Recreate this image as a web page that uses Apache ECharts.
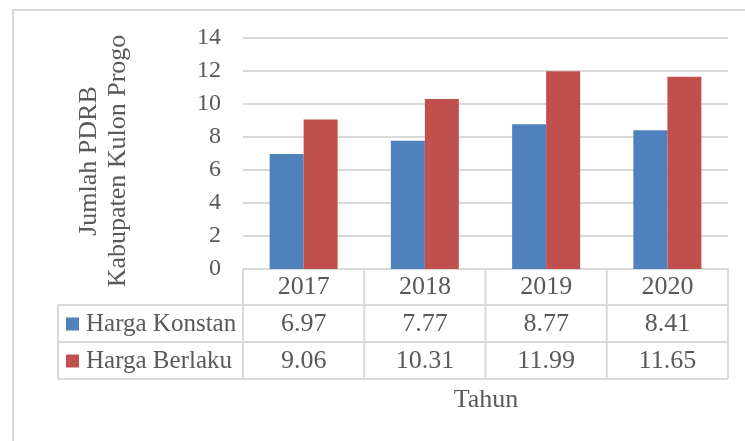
<!DOCTYPE html>
<html>
<head>
<meta charset="utf-8">
<script src="https://cdn.jsdelivr.net/npm/echarts@6/dist/echarts.min.js"></script>
<style>
  html, body { margin: 0; padding: 0; background: #fff; }
  #main { width: 745px; height: 441px; }
</style>
</head>
<body>
<div id="main"></div>
<script>
var categories = ['2017', '2018', '2019', '2020'];
var seriesNames = ['Harga Konstan', 'Harga Berlaku'];
var hargaKonstan = [6.97, 7.77, 8.77, 8.41];
var hargaBerlaku = [9.06, 10.31, 11.99, 11.65];
var yMin = 0, yMax = 14, yStep = 2;

var colors = ['#4F81BD', '#C0504D'];
var textColor = '#595959';
var lineColor = '#D9D9D9';
var font = 'Liberation Serif';

var myChart = echarts.init(document.getElementById('main'));

var option = {
    backgroundColor: '#fff',
    animation: false,
    color: colors,
    grid: {
        left: 243,
        right: 17,
        top: 38,
        bottom: 172
    },
    xAxis: {
        type: 'category',
        data: categories,
        axisLine: { lineStyle: { color: lineColor, width: 2 } },
        axisTick: { show: false },
        axisLabel: {
            color: textColor,
            fontFamily: font,
            fontSize: 26,
            margin: 5
        }
    },
    yAxis: {
        type: 'value',
        min: yMin,
        max: yMax,
        interval: yStep,
        axisLine: { show: false },
        axisTick: { show: false },
        axisLabel: {
            color: textColor,
            fontFamily: font,
            fontSize: 24,
            margin: 22
        },
        splitLine: { lineStyle: { color: lineColor, width: 2 } }
    },
    series: [
        {
            name: seriesNames[0],
            type: 'bar',
            data: hargaKonstan,
            barWidth: 34,
            barGap: '0%'
        },
        {
            name: seriesNames[1],
            type: 'bar',
            data: hargaBerlaku,
            barWidth: 34,
            barGap: '0%'
        }
    ]
};
myChart.setOption(option);

// data table under the plot, aligned to the category axis
var rowY = [269, 305, 342, 379];
var tableLeft = 58;
var c0 = myChart.convertToPixel({ xAxisIndex: 0 }, 0);
var c1 = myChart.convertToPixel({ xAxisIndex: 0 }, 1);
var band = c1 - c0;
var plotLeft = c0 - band / 2;
var plotRight = plotLeft + band * categories.length;

var lineStyle = { stroke: lineColor, lineWidth: 2 };
var elements = [];

// outer chart border
elements.push({
    type: 'rect',
    shape: { x: 13, y: 10, width: 760, height: 460 },
    style: { fill: null, stroke: lineColor, lineWidth: 2 },
    silent: true
});

// horizontal lines
elements.push({ type: 'line', shape: { x1: tableLeft, y1: rowY[1], x2: plotRight, y2: rowY[1] }, style: lineStyle });
elements.push({ type: 'line', shape: { x1: tableLeft, y1: rowY[2], x2: plotRight, y2: rowY[2] }, style: lineStyle });
elements.push({ type: 'line', shape: { x1: tableLeft, y1: rowY[3], x2: plotRight, y2: rowY[3] }, style: lineStyle });
// vertical lines
elements.push({ type: 'line', shape: { x1: tableLeft, y1: rowY[1], x2: tableLeft, y2: rowY[3] }, style: lineStyle });
for (var i = 0; i <= categories.length; i++) {
    var x = plotLeft + band * i;
    elements.push({ type: 'line', shape: { x1: x, y1: rowY[0], x2: x, y2: rowY[3] }, style: lineStyle });
}

var rows = [hargaKonstan, hargaBerlaku];
rows.forEach(function (vals, r) {
    var cy = (rowY[r + 1] + rowY[r + 2]) / 2;
    // legend key
    elements.push({
        type: 'rect',
        shape: { x: 66, y: cy - 6, width: 13, height: 13 },
        style: { fill: colors[r] }
    });
    elements.push({
        type: 'text',
        x: 86, y: cy + 1,
        style: {
            text: seriesNames[r],
            fill: textColor,
            font: '25px "' + font + '"',
            textAlign: 'left',
            textVerticalAlign: 'middle'
        }
    });
    vals.forEach(function (v, i) {
        var cx = myChart.convertToPixel({ xAxisIndex: 0 }, i);
        elements.push({
            type: 'text',
            x: cx, y: cy + 1,
            style: {
                text: v.toFixed(2),
                fill: textColor,
                font: '26px "' + font + '"',
                textAlign: 'center',
                textVerticalAlign: 'middle'
            }
        });
    });
});

// axis titles
elements.push({
    type: 'text',
    x: 486, y: 400,
    style: {
        text: 'Tahun',
        fill: textColor,
        font: '26px "' + font + '"',
        textAlign: 'center',
        textVerticalAlign: 'middle'
    }
});
elements.push({
    type: 'text',
    x: 104, y: 161,
    rotation: Math.PI / 2,
    style: {
        text: 'Jumlah PDRB\nKabupaten Kulon Progo',
        fill: textColor,
        font: '26px "' + font + '"',
        lineHeight: 29,
        textAlign: 'center',
        textVerticalAlign: 'middle'
    }
});

myChart.setOption({ graphic: { elements: elements } });
</script>
</body>
</html>
